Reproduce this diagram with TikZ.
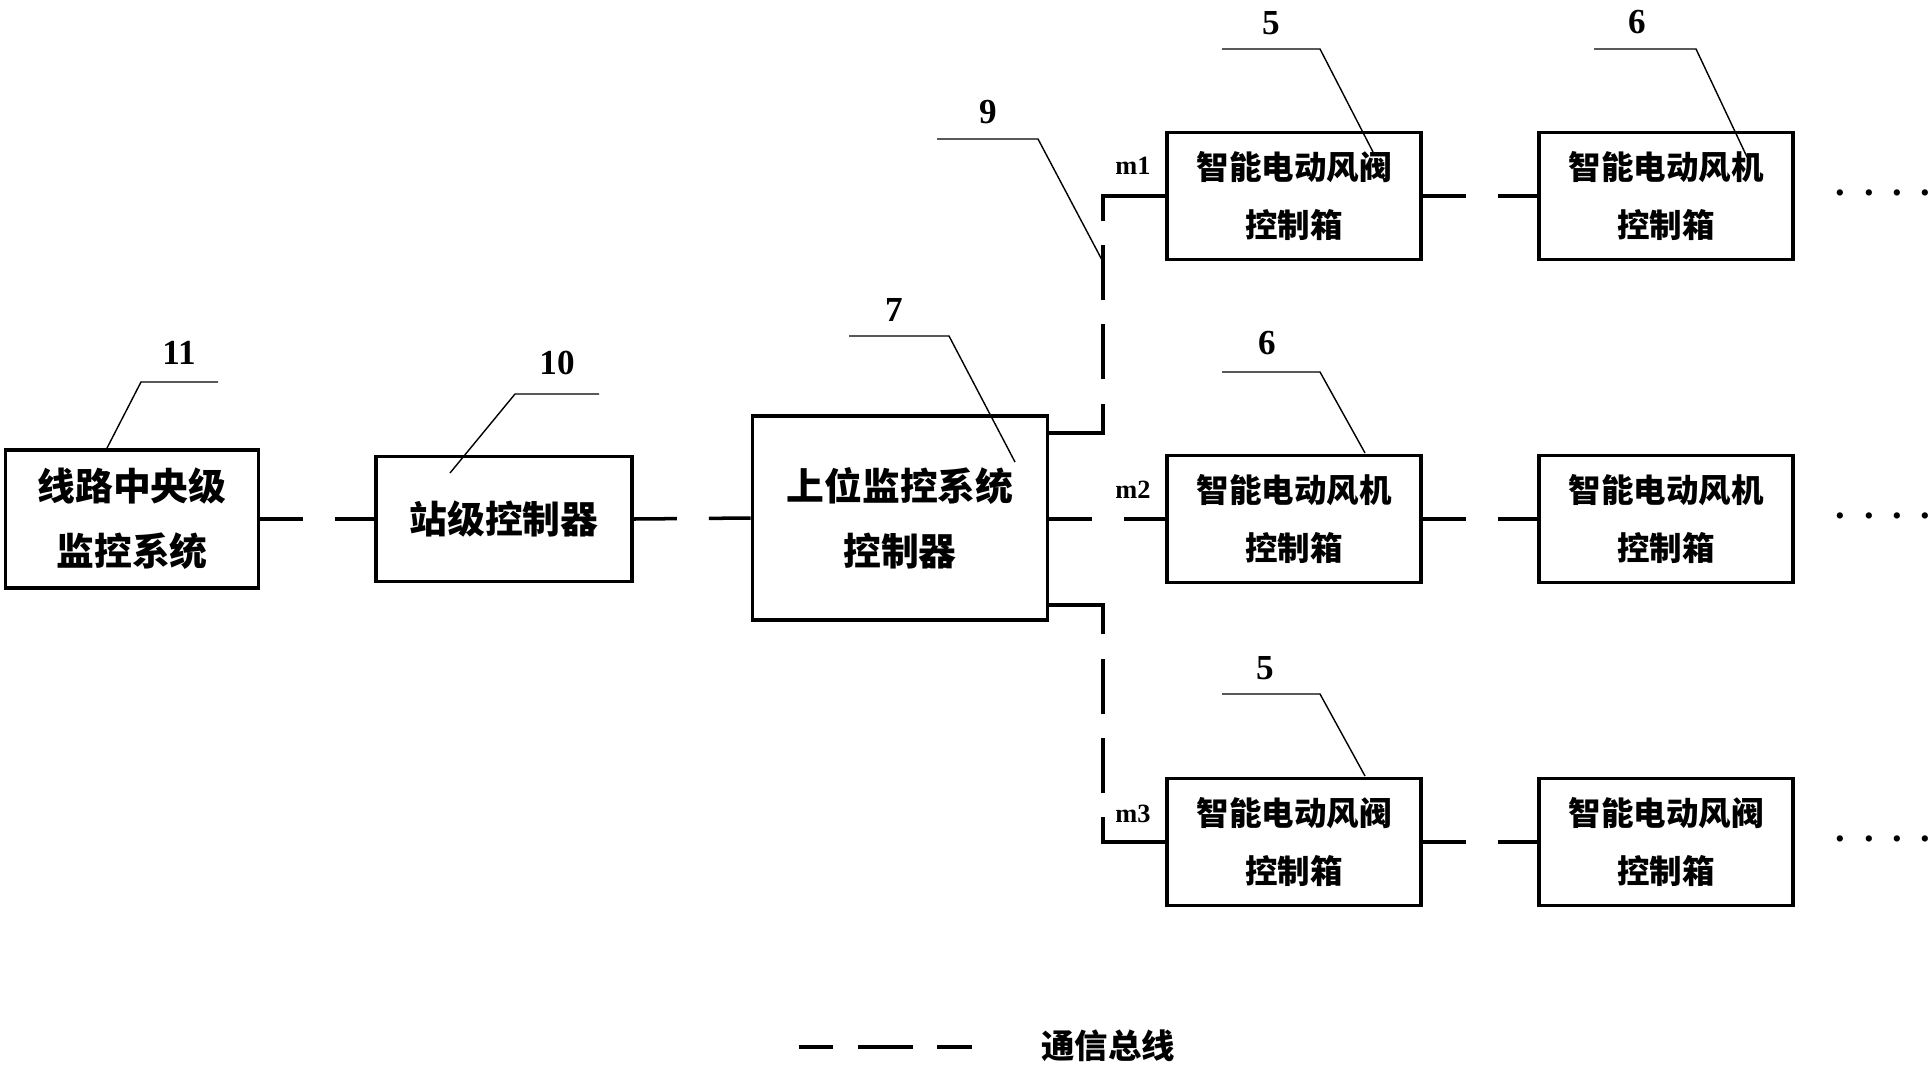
\documentclass[tikz,border=0pt]{standalone}
\usepackage{fontspec}
\setmainfont{Liberation Serif}
\newfontfamily\cjk{Noto Sans CJK SC}[BoldFont={Noto Sans CJK SC Black}]
\usetikzlibrary{positioning,calc}

\begin{document}
\begin{tikzpicture}[x=0.02cm,y=-0.02cm,
    box/.style={draw, line width=2.2pt, align=center, inner sep=0pt},
    bigbox/.style={box, font=\cjk\bfseries\fontsize{21.5}{37}\selectfont},
    rowbox/.style={box, minimum width=5.07cm, minimum height=2.54cm,
      font=\cjk\bfseries\fontsize{18.5}{33}\selectfont},
    bus/.style={line width=2pt, dash pattern=on 0.86cm off 0.64cm},
    branch/.style={line width=2pt,
      dash pattern=on 1.66cm off 0.5cm on 1.1cm off 0.48cm on 1.1cm off 0.48cm on 1.86cm},
    leader/.style={line width=0.8pt},
    num/.style={font=\bfseries\fontsize{20}{20}\selectfont},
    mlab/.style={font=\bfseries\fontsize{15}{15}\selectfont},
    dots/.style={font=\bfseries\fontsize{22}{22}\selectfont}]
    \useasboundingbox (0,0) rectangle (1932,1065);

    \node[bigbox, minimum width=5.06cm, minimum height=2.76cm] (sys11) at (132,519) {线路中央级\\监控系统};
    \node[bigbox, minimum width=5.12cm, minimum height=2.5cm] (st10) at (504,519) {站级控制器};
    \node[bigbox, minimum width=5.9cm, minimum height=4.08cm] (up7) at (900,518) {上位监控系统\\控制器};

    \node[rowbox] (r1a) at (1294,196) {智能电动风阀\\控制箱};
    \node[rowbox] (r1b) at (1666,196) {智能电动风机\\控制箱};
    \node[rowbox] (r2a) at (1294,519) {智能电动风机\\控制箱};
    \node[rowbox] (r2b) at (1666,519) {智能电动风机\\控制箱};
    \node[rowbox] (r3a) at (1294,842) {智能电动风阀\\控制箱};
    \node[rowbox] (r3b) at (1666,842) {智能电动风阀\\控制箱};

    \node[mlab] (m1) at (1133,166) {m1};
    \node[mlab] (m2) at (1133,490) {m2};
    \node[mlab] (m3) at (1133,814) {m3};

    \node[dots] (more1) at (1883,193) {.\hspace{10.6pt}.\hspace{10.6pt}.\hspace{10.6pt}.};
    \node[dots] (more2) at (1883,516) {.\hspace{10.6pt}.\hspace{10.6pt}.\hspace{10.6pt}.};
    \node[dots] (more3) at (1883,839) {.\hspace{10.6pt}.\hspace{10.6pt}.\hspace{10.6pt}.};

    % bus lines
    \foreach \from/\to in {sys11/st10, st10/up7, r1a/r1b, r2a/r2b, r3a/r3b}
        \draw[bus] (\from.east) -- (\to.west);
    \draw[bus] (up7.east |- r2a.west) -- (r2a.west);
    \coordinate (bus1) at (1103,300);
    \coordinate (bus3) at (1103,700);
    \draw[branch] ($(up7.north east)+(0,19)$) -| (bus1) |- (r1a.west);
    \draw[branch] ($(up7.south east)+(0,-17)$) -| (bus3) |- (r3a.west);

    % part numbers
    \node[num] (c11) at (179,353) {11};
    \node[num] (c10) at (557,363) {10};
    \node[num] (c7) at (894,310) {7};
    \node[num] (c9) at (988,112) {9};
    \node[num] (c5a) at (1271,23) {5};
    \node[num] (c6a) at (1637,22) {6};
    \node[num] (c6b) at (1267,343) {6};
    \node[num] (c5b) at (1265,668) {5};

    \coordinate (a11) at (218,382);  \coordinate (b11) at (141,382);  \coordinate (t11) at (106,450);
    \coordinate (a10) at (599,394);  \coordinate (b10) at (515,394);  \coordinate (t10) at (450,473);
    \coordinate (a7) at (849,336);   \coordinate (b7) at (949,336);   \coordinate (t7) at (1015,462);
    \coordinate (a9) at (937,139);   \coordinate (b9) at (1038,139);  \coordinate (t9) at (1102,260);
    \coordinate (a5a) at (1222,49);  \coordinate (b5a) at (1320,49);  \coordinate (t5a) at (1373,152);
    \coordinate (a6a) at (1594,49);  \coordinate (b6a) at (1696,49);  \coordinate (t6a) at (1747,157);
    \coordinate (a6b) at (1222,372); \coordinate (b6b) at (1320,372); \coordinate (t6b) at (1365,453);
    \coordinate (a5b) at (1222,694); \coordinate (b5b) at (1320,694); \coordinate (t5b) at (1365,776);
    \foreach \a/\b/\t in {a11/b11/t11, a10/b10/t10, a7/b7/t7, a9/b9/t9,
                          a5a/b5a/t5a, a6a/b6a/t6a, a6b/b6b/t6b, a5b/b5b/t5b}
        \draw[leader] (\a) -- (\b) -- (\t);

    % legend
    \coordinate (leg1) at (799,1047);
    \coordinate (leg2) at (972,1047);
    \draw[line width=2pt, dash pattern=on 0.68cm off 0.5cm on 1.1cm off 0.48cm on 0.7cm] (leg1) -- (leg2);
    \node[font=\cjk\bfseries\fontsize{19}{19}\selectfont] (legtxt) at (1108,1046) {通信总线};
\end{tikzpicture}
\end{document}
